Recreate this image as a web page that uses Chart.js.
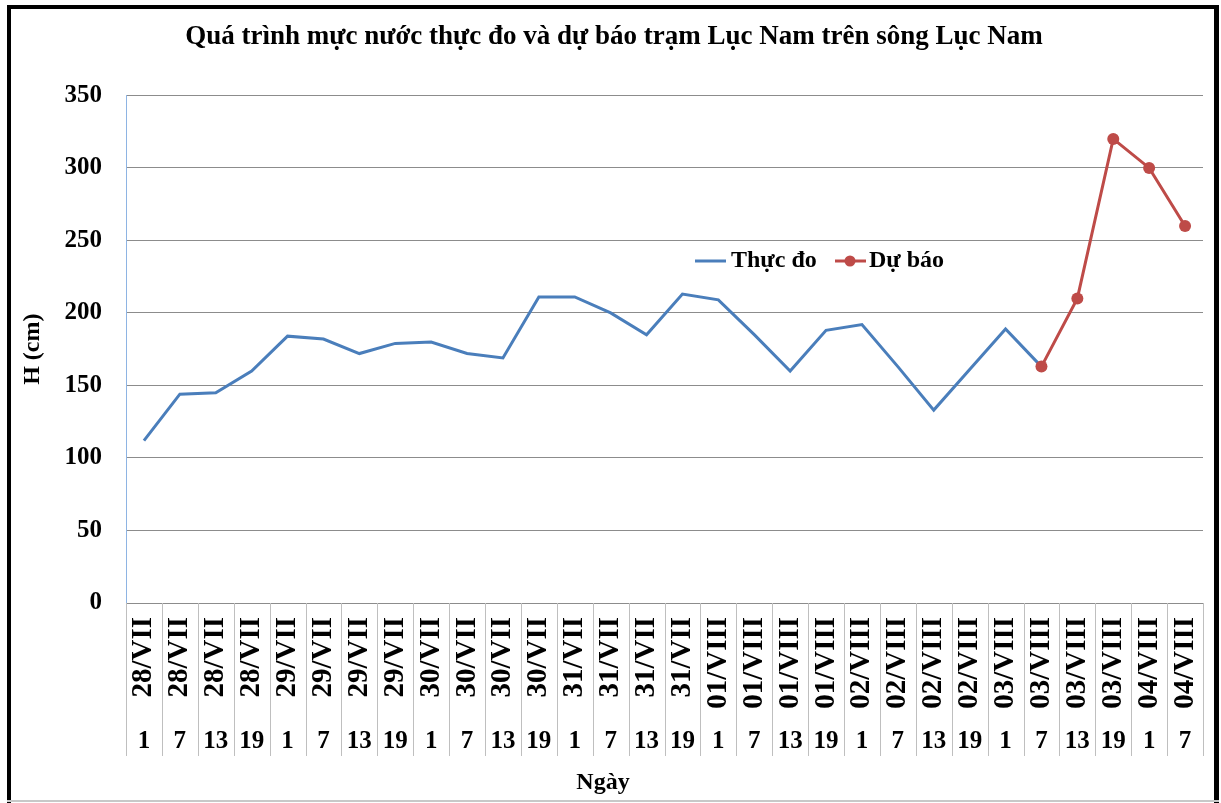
<!DOCTYPE html>
<html>
<head>
<meta charset="utf-8">
<script src="https://cdn.jsdelivr.net/npm/chart.js@4"></script>
<style>
  html, body { margin: 0; padding: 0; background: #fff; }
  #wrap { position: relative; width: 1221px; height: 803px; }
</style>
</head>
<body>
<div id="wrap"><canvas id="chart" width="1221" height="803"></canvas></div>
<script>
const days = ['28/VII','28/VII','28/VII','28/VII','29/VII','29/VII','29/VII','29/VII',
    '30/VII','30/VII','30/VII','30/VII','31/VII','31/VII','31/VII','31/VII',
    '01/VIII','01/VIII','01/VIII','01/VIII','02/VIII','02/VIII','02/VIII','02/VIII',
    '03/VIII','03/VIII','03/VIII','03/VIII','04/VIII','04/VIII'];
const hours = ['1','7','13','19','1','7','13','19','1','7','13','19','1','7','13','19',
    '1','7','13','19','1','7','13','19','1','7','13','19','1','7'];
const thucDo = [112,144,145,160,184,182,172,179,180,172,169,211,211,200,185,213,
    209,185,160,188,192,163,133,161,189,163,null,null,null,null];
const duBao = [null,null,null,null,null,null,null,null,null,null,null,null,null,null,null,null,
    null,null,null,null,null,null,null,null,null,163,210,320,300,260];
const yTicks = [0,50,100,150,200,250,300,350];

const FONT = 'Liberation Serif';
const BLUE = '#4A7EBB';
const RED = '#BE4B48';

const frame = {
    id: 'frame',
    beforeDraw(chart) {
        const ctx = chart.ctx;
        ctx.save();
        ctx.fillStyle = '#fff';
        ctx.fillRect(0, 0, chart.width, chart.height);
        ctx.fillStyle = '#000';
        ctx.fillRect(7, 5, 1212, 4);
        ctx.fillRect(7, 5, 4, 798);
        ctx.fillRect(1214, 5, 5, 798);
        ctx.fillStyle = '#c8c8c8';
        ctx.fillRect(7, 800, 1212, 2);
        ctx.restore();
    },
    afterDraw(chart) {
        const ctx = chart.ctx;
        const x = chart.scales.x;
        const area = chart.chartArea;
        ctx.save();
        ctx.strokeStyle = '#bfbfbf';
        ctx.lineWidth = 1;
        for (let i = 0; i <= days.length; i++) {
            const px = Math.round(x.getPixelForValue(i - 0.5)) + 0.5;
            ctx.beginPath();
            ctx.moveTo(px, area.bottom);
            ctx.lineTo(px, 756);
            ctx.stroke();
        }
        ctx.font = 'bold 24px "' + FONT + '"';
        ctx.textBaseline = 'middle';
        ctx.fillStyle = '#000';
        // x axis title
        ctx.textAlign = 'center';
        ctx.fillText('Ngày', 603, 783);
        ctx.textAlign = 'left';
        // legend
        const ly = 261;
        ctx.lineWidth = 3;
        ctx.strokeStyle = BLUE;
        ctx.beginPath(); ctx.moveTo(695, ly); ctx.lineTo(726, ly); ctx.stroke();
        ctx.fillText('Thực đo', 731, ly);
        ctx.strokeStyle = RED;
        ctx.beginPath(); ctx.moveTo(835, ly); ctx.lineTo(866, ly); ctx.stroke();
        ctx.fillStyle = RED;
        ctx.beginPath(); ctx.arc(850, ly, 5.5, 0, Math.PI * 2); ctx.fill();
        ctx.fillStyle = '#000';
        ctx.fillText('Dự báo', 869, ly);
        ctx.restore();
    }
};

function fitX(h) {
    return s => { s.height = h; s.paddingLeft = 0; s.paddingRight = 0; };
}

new Chart(document.getElementById('chart'), {
    type: 'line',
    data: {
        labels: days,
        datasets: [{
            label: 'Thực đo',
            data: thucDo,
            borderColor: BLUE,
            backgroundColor: BLUE,
            borderWidth: 3,
            pointRadius: 0,
            tension: 0,
            order: 2
        }, {
            label: 'Dự báo',
            data: duBao,
            borderColor: RED,
            backgroundColor: RED,
            borderWidth: 3,
            pointRadius: 6,
            pointBackgroundColor: RED,
            pointBorderWidth: 0,
            tension: 0,
            order: 1
        }]
    },
    options: {
        responsive: false,
        animation: false,
        layout: { padding: { left: 25, right: 18, top: 0, bottom: 0 } },
        plugins: {
            legend: { display: false },
            tooltip: { enabled: false },
            title: {
                display: true,
                text: 'Quá trình mực nước thực đo và dự báo trạm Lục Nam trên sông Lục Nam',
                color: '#000',
                font: { family: FONT, size: 27, weight: 'bold' },
                padding: { top: 21, bottom: 42 }
            }
        },
        scales: {
            x: {
                type: 'category',
                position: 'bottom',
                offset: true,
                weight: 0,
                grid: { display: false, drawTicks: false },
                border: { display: false },
                ticks: {
                    autoSkip: false,
                    minRotation: 90,
                    maxRotation: 90,
                    padding: 14,
                    color: '#000',
                    font: { family: FONT, size: 29, weight: 'bold' }
                },
                afterFit: fitX(112)
            },
            x2: {
                type: 'category',
                position: 'bottom',
                labels: hours,
                offset: true,
                weight: 1,
                grid: { display: false, drawTicks: false },
                border: { display: false },
                ticks: {
                    autoSkip: false,
                    maxRotation: 0,
                    padding: 12,
                    color: '#000',
                    font: { family: FONT, size: 25, weight: 'bold' }
                },
                afterFit: fitX(88)
            },
            y: {
                min: 0,
                max: 350,
                afterBuildTicks(s) { s.ticks = yTicks.map(v => ({ value: v })); },
                grid: { color: '#8c8c8c', lineWidth: 1, drawTicks: false },
                border: { color: '#8EB4E3', width: 1 },
                ticks: {
                    padding: 24,
                    color: '#000',
                    font: { family: FONT, size: 25, weight: 'bold' }
                },
                title: {
                    display: true,
                    text: 'H (cm)',
                    color: '#000',
                    font: { family: FONT, size: 24, weight: 'bold' },
                    padding: { top: -7, bottom: 0 }
                },
                afterFit(s) { s.width = 101; }
            }
        }
    },
    plugins: [frame]
});
</script>
</body>
</html>
